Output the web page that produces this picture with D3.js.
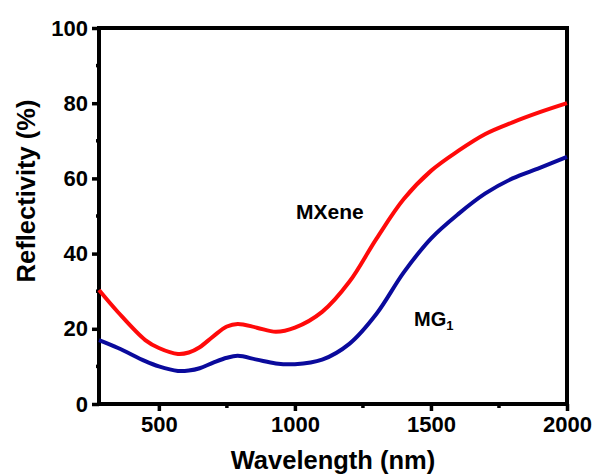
<!DOCTYPE html>
<html>
<head>
<meta charset="utf-8">
<script src="https://cdn.jsdelivr.net/npm/d3@7"></script>
<style>
  body { margin: 0; background: #fff; }
  svg { display: block; font-family: "Liberation Sans", Arial, sans-serif; }
</style>
</head>
<body>
<div id="container"></div>
<script>
// wavelength (nm) and reflectivity (%) of the two samples
var wavelength = [280, 350, 450, 500, 570, 610, 650, 700, 750, 790, 860, 930, 1000, 1100, 1200, 1300, 1400, 1500, 1600, 1700, 1800, 1900, 2000];
var mxene      = [30.3, 24.4, 17.0, 14.9, 13.3, 13.7, 15.1, 18.0, 20.6, 21.3, 20.3, 19.2, 20.3, 24.5, 32.5, 44, 54.5, 62, 67.3, 71.8, 74.9, 77.6, 80];
var mg1        = [17.0, 14.9, 11.4, 10.0, 8.8, 8.9, 9.5, 11.0, 12.3, 12.8, 11.8, 10.8, 10.6, 11.8, 16, 24, 35, 44, 50.5, 56, 60, 62.8, 65.7];

var xTicks = [500, 1000, 1500, 2000];
var xMinor = [750, 1250, 1750];
var yTicks = [0, 20, 40, 60, 80, 100];
var yMinor = [10, 30, 50, 70, 90];

var margin = { top: 28, left: 99, right: 26, bottom: 72 },
  width = 593 - margin.left - margin.right,
  height = 476 - margin.top - margin.bottom;

var svg = d3.select("#container")
  .append("svg")
  .attr("width", width + margin.left + margin.right)
  .attr("height", height + margin.top + margin.bottom)
  .append("g")
  .attr("transform", "translate(" + margin.left + "," + margin.top + ")");

// scales
var x = d3.scaleLinear().domain([280, 2000]).range([0, width]);
var y = d3.scaleLinear().domain([0, 100]).range([height, 0]);

// axes
var xAxis = svg.append("g")
  .attr("transform", "translate(0," + height + ")")
  .call(d3.axisBottom(x).tickValues(xTicks).tickFormat(d3.format("d")).tickSize(7).tickPadding(5));

xAxis.selectAll(".minor")
  .data(xMinor)
  .enter().append("line")
  .attr("class", "minor")
  .attr("x1", function(d) { return x(d) })
  .attr("x2", function(d) { return x(d) })
  .attr("y1", 0)
  .attr("y2", 4)
  .attr("stroke", "#000")
  .attr("stroke-width", 3.5);

var yAxis = svg.append("g")
  .call(d3.axisLeft(y).tickValues(yTicks).tickSize(7).tickPadding(4));

yAxis.selectAll(".minor")
  .data(yMinor)
  .enter().append("line")
  .attr("class", "minor")
  .attr("y1", function(d) { return y(d) })
  .attr("y2", function(d) { return y(d) })
  .attr("x1", 0)
  .attr("x2", -3)
  .attr("stroke", "#000")
  .attr("stroke-width", 3.5);

svg.selectAll(".tick line").attr("stroke-width", 3.5);
svg.selectAll(".domain").remove();
svg.selectAll(".tick text")
  .attr("font-size", 22)
  .attr("font-weight", "bold")
  .attr("font-family", "Liberation Sans, Arial, sans-serif")
  .attr("fill", "#000");

// frame
svg.append("rect")
  .attr("x", 0)
  .attr("y", 0)
  .attr("width", width)
  .attr("height", height)
  .attr("fill", "none")
  .attr("stroke", "#000")
  .attr("stroke-width", 4);

// curves
var line = d3.line()
  .x(function(d) { return x(d[0]) })
  .y(function(d) { return y(d[1]) })
  .curve(d3.curveCatmullRom.alpha(0.5));

svg.append("path")
  .datum(d3.zip(wavelength, mg1))
  .attr("d", line)
  .attr("fill", "none")
  .attr("stroke", "#0a0a9c")
  .attr("stroke-width", 4);

svg.append("path")
  .datum(d3.zip(wavelength, mxene))
  .attr("d", line)
  .attr("fill", "none")
  .attr("stroke", "#ff0a0a")
  .attr("stroke-width", 4);

// curve labels
svg.append("text")
  .text("MXene")
  .attr("x", 197)
  .attr("y", 191)
  .attr("font-size", 21)
  .attr("font-weight", "bold");

var mgLabel = svg.append("text")
  .attr("x", 315)
  .attr("y", 298)
  .attr("font-size", 20)
  .attr("font-weight", "bold");
mgLabel.append("tspan").text("MG");
mgLabel.append("tspan").text("1")
  .attr("font-size", 13)
  .attr("dy", 4);

// axis titles
svg.append("text")
  .text("Wavelength (nm)")
  .attr("x", width / 2)
  .attr("y", height + 65)
  .attr("text-anchor", "middle")
  .attr("font-size", 25.5)
  .attr("font-weight", "bold");

svg.append("text")
  .text("Reflectivity (%)")
  .attr("transform", "translate(" + (35 - margin.left) + "," + (191 - margin.top) + ") rotate(-90)")
  .attr("text-anchor", "middle")
  .attr("font-size", 25.5)
  .attr("font-weight", "bold");
</script>
</body>
</html>
